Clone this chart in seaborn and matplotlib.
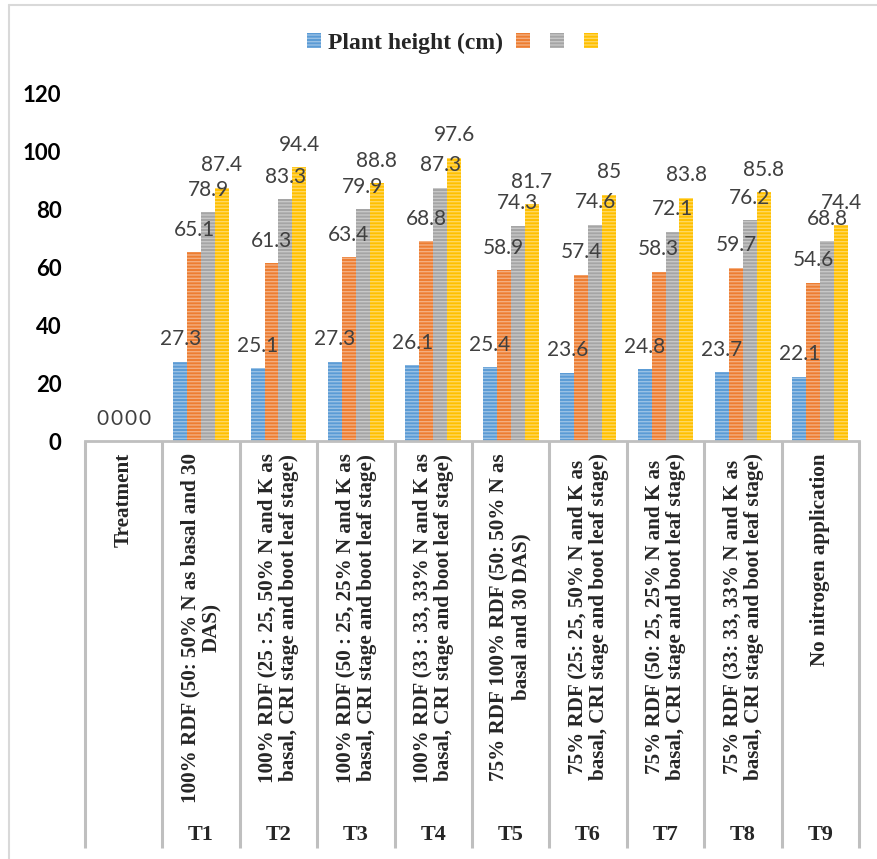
import matplotlib
matplotlib.use("Agg")
import matplotlib.pyplot as plt
from matplotlib.lines import Line2D
from matplotlib.patches import Patch
import matplotlib.colors as mcolors
import numpy as np
import pandas as pd
import seaborn as sns

# ---- data -------------------------------------------------------------
treatments = [
    "Treatment",
    "100% RDF (50: 50% N as basal and 30\nDAS)",
    "100% RDF (25 : 25, 50% N and K as\nbasal, CRI stage and boot leaf stage)",
    "100% RDF (50 : 25, 25% N and K as\nbasal, CRI stage and boot leaf stage)",
    "100% RDF (33 : 33, 33% N and K as\nbasal, CRI stage and boot leaf stage)",
    "75% RDF 100% RDF (50: 50% N as\nbasal and 30 DAS)",
    "75% RDF (25: 25, 50% N and K as\nbasal, CRI stage and boot leaf stage)",
    "75% RDF (50: 25, 25% N and K as\nbasal, CRI stage and boot leaf stage)",
    "75% RDF (33: 33, 33% N and K as\nbasal, CRI stage and boot leaf stage)",
    "No nitrogen application",
]
codes = ["", "T1", "T2", "T3", "T4", "T5", "T6", "T7", "T8", "T9"]

series_names = ["Plant height (cm)", "s2", "s3", "s4"]
legend_labels = ["Plant height (cm)", "", "", ""]
height_s1 = [0, 27.3, 25.1, 27.3, 26.1, 25.4, 23.6, 24.8, 23.7, 22.1]
height_s2 = [0, 65.1, 61.3, 63.4, 68.8, 58.9, 57.4, 58.3, 59.7, 54.6]
height_s3 = [0, 78.9, 83.3, 79.9, 87.3, 74.3, 74.6, 72.1, 76.2, 68.8]
height_s4 = [0, 87.4, 94.4, 88.8, 97.6, 81.7, 85, 83.8, 85.8, 74.4]
all_series = [height_s1, height_s2, height_s3, height_s4]

colors = ["#5B9BD5", "#ED7D31", "#A5A5A5", "#FFC000"]
y_ticks = [0, 20, 40, 60, 80, 100, 120]

df = pd.DataFrame(
    [(t, s, v) for s, vals in zip(series_names, all_series) for t, v in zip(treatments, vals)],
    columns=["treatment", "series", "value"],
)

# ---- style -------------------------------------------------------------
sns.set_style("white")
plt.rcParams["font.family"] = ["Lato", "DejaVu Sans"]
plt.rcParams["hatch.linewidth"] = 1.0

W, H = 877, 859
fig = plt.figure(figsize=(W / 100, H / 100), dpi=100)
ax = fig.add_axes([85 / W, 1 - 441 / H, (859 - 85) / W, 348 / H])

sns.barplot(
    data=df, x="treatment", y="value", hue="series",
    order=treatments, hue_order=series_names,
    palette=colors, width=0.72, saturation=1, legend=False, ax=ax,
)


def lighter(c, amt=0.38):
    r, g, b = mcolors.to_rgb(c)
    return (r + (1 - r) * amt, g + (1 - g) * amt, b + (1 - b) * amt)


# striped fill + value labels
for cont, col, vals in zip(ax.containers, colors, all_series):
    for bar in cont:
        bar.set_hatch("-----")
        bar.set_edgecolor(lighter(col))
        bar.set_linewidth(0)
    ax.bar_label(cont, labels=[f"{v:g}" for v in vals], padding=9,
                 color="#404040", fontsize=15, family=["Lato", "DejaVu Sans"])

# ---- axes ----------------------------------------------------------------
ax.set_xlim(-0.5, len(treatments) - 0.5)
ax.set_ylim(0, 120)
ax.set_yticks(y_ticks)
ax.set_yticklabels([str(t) for t in y_ticks], fontsize=16, fontweight="bold", color="black")
ax.tick_params(axis="y", length=0, pad=17)
ax.set_xticks([])
ax.set_xlabel("")
ax.set_ylabel("")
for side in ["top", "right", "left"]:
    ax.spines[side].set_visible(False)
ax.spines["bottom"].set_color("#BFBFBF")
ax.spines["bottom"].set_linewidth(2)

# category table below the axis
trans = ax.get_xaxis_transform()
y_bottom = (441 - 848) / 348
for b in np.arange(-0.5, len(treatments), 1.0):
    ax.plot([b, b], [0, y_bottom], transform=trans, color="#BFBFBF", lw=2.2,
            clip_on=False, solid_capstyle="butt")

serif = ["Liberation Serif", "DejaVu Serif"]
y_label_top = (441 - 453) / 348
y_code = (441 - 835) / 348
for i, (t, c) in enumerate(zip(treatments, codes)):
    ax.text(i, y_label_top, t, transform=trans, rotation=90, ha="center", va="top",
            multialignment="center", fontsize=15.2, fontweight="bold",
            family=serif, linespacing=1.12)
    if c:
        ax.text(i, y_code, c, transform=trans, ha="center", va="center",
                fontsize=16, fontweight="bold", family=serif)

# legend
handles = [Patch(facecolor=c, edgecolor=lighter(c), hatch="-----", linewidth=0) for c in colors]
fig.legend(handles, legend_labels, loc="center", bbox_to_anchor=(456 / W, 1 - 43 / H),
           ncol=4, frameon=False, handlelength=0.6, handleheight=0.6,
           handletextpad=0.3, columnspacing=0.55,
           prop={"family": serif, "weight": "bold", "size": 17})

# chart area border (top and left edges)
fig.add_artist(Line2D([9 / W, 9 / W], [0, 1 - 5 / H], transform=fig.transFigure,
                      color="#D9D9D9", lw=1.5))
fig.add_artist(Line2D([9 / W, 1], [1 - 5 / H, 1 - 5 / H], transform=fig.transFigure,
                      color="#D9D9D9", lw=1.5))

fig.savefig("out.png", dpi=100, facecolor="white")
